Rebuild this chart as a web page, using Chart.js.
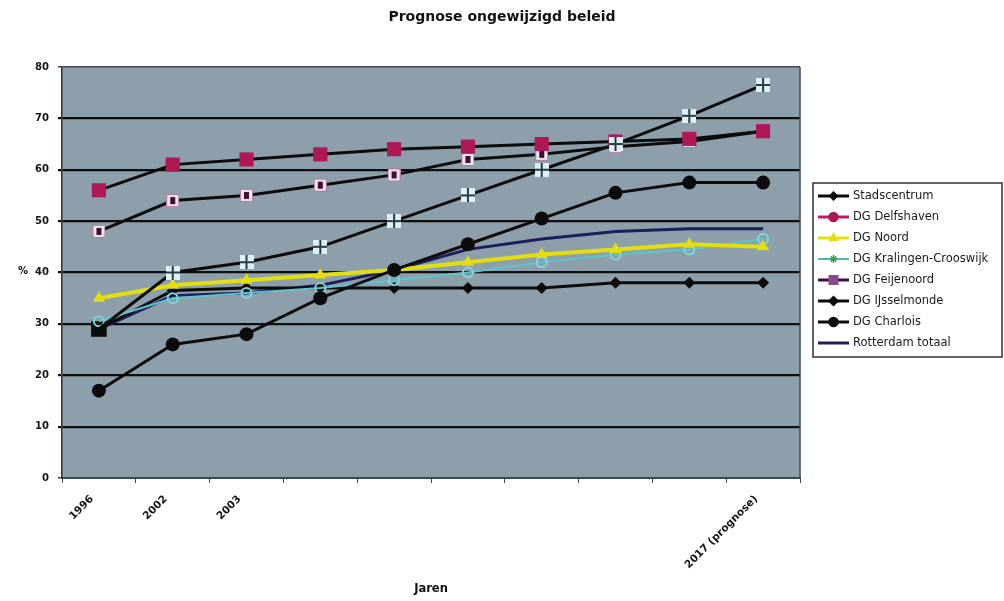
<!DOCTYPE html>
<html>
<head>
<meta charset="utf-8">
<title>Prognose ongewijzigd beleid</title>
<script src="https://cdn.jsdelivr.net/npm/chart.js@4.4.1/dist/chart.umd.min.js"></script>
<style>
  html, body { margin: 0; padding: 0; background: #ffffff; }
  #wrap { width: 1004px; height: 601px; }
</style>
</head>
<body>
<div id="wrap"><canvas id="chart" width="1004" height="601"></canvas></div>
<script>
// Years on the horizontal axis (only some of them are labelled)
const years = ['1996', '2002', '2003', '', '', '', '', '', '', '2017 (prognose)'];

// Percentages per district
const stadscentrum = [29, 40, 42, 45, 50, 55, 60, 65, 70.5, 76.5];
const delfshaven   = [56, 61, 62, 63, 64, 64.5, 65, 65.5, 66, 67.5];
const noord        = [35, 37.5, 38.5, 39.5, 40.5, 42, 43.5, 44.5, 45.5, 45];
const kralingen    = [30.5, 35, 36, 37, 38.5, 40, 42, 43.5, 44.5, 46.5];
const feijenoord   = [48, 54, 55, 57, 59, 62, 63, 64.5, 65.5, 67.5];
const ijsselmonde  = [29, 36.5, 37, 37, 37, 37, 37, 38, 38, 38];
const charlois     = [17, 26, 28, 35, 40.5, 45.5, 50.5, 55.5, 57.5, 57.5];
const rotterdam    = [29, 35.5, 36, 37.5, 40.5, 44.5, 46.5, 48, 48.5, 48.5];

// Value axis
const yMin = 0, yMax = 80, yStep = 10;

const FONT = 'DejaVu Sans';

// Light square split into four by a dark cross
function crossSquare() {
  const c = document.createElement('canvas');
  c.width = 14; c.height = 14;
  const g = c.getContext('2d');
  g.fillStyle = '#dcf0f6';
  g.fillRect(0, 0, 14, 14);
  g.fillStyle = '#2b3b46';
  g.fillRect(6, 0, 2, 14);
  g.fillRect(0, 6, 14, 2);
  return c;
}

// Pale square with a dark purple core
function purpleSquare() {
  const c = document.createElement('canvas');
  c.width = 13; c.height = 13;
  const g = c.getContext('2d');
  g.fillStyle = '#f3e3ee';
  g.fillRect(0, 0, 13, 13);
  g.strokeStyle = '#b07fa0';
  g.lineWidth = 1;
  g.strokeRect(0.5, 0.5, 12, 12);
  g.fillStyle = '#3c0f33';
  g.fillRect(4, 3, 5, 7);
  return c;
}

const crossImg = crossSquare();
const purpleImg = purpleSquare();

const datasets = [
  {
    label: 'Stadscentrum', data: stadscentrum, order: 1,
    borderColor: '#0c0c0c', borderWidth: 3,
    pointStyle: crossImg,
    pointRadius: ctx => ctx.dataIndex === 0 ? 0 : 7,
    legendPoint: { style: 'rectRot', radius: 4, fill: '#0c0c0c' }
  },
  {
    label: 'DG Delfshaven', data: delfshaven, order: 2,
    borderColor: '#0c0c0c', borderWidth: 3,
    pointStyle: 'rect', pointRadius: 10,
    pointBackgroundColor: '#ad1855', pointBorderColor: '#ad1855', pointBorderWidth: 0,
    legendLine: '#c2186a',
    legendPoint: { style: 'circle', radius: 4.5, fill: '#ad1855' }
  },
  {
    label: 'DG Noord', data: noord, order: 5,
    borderColor: '#e3de10', borderWidth: 4,
    pointStyle: 'triangle', pointRadius: 7,
    pointBackgroundColor: '#e3de10', pointBorderColor: '#e3de10', pointBorderWidth: 0,
    legendPoint: { style: 'triangle', radius: 4.5, fill: '#e3de10' }
  },
  {
    label: 'DG Kralingen-Crooswijk', data: kralingen, order: 6,
    borderColor: '#5ec4cc', borderWidth: 2,
    pointStyle: 'circle', pointRadius: 5,
    pointBackgroundColor: 'rgba(0,0,0,0)', pointBorderColor: '#7fd6dc', pointBorderWidth: 2,
    legendLine: '#4fb8c0',
    legendPoint: { style: 'star', radius: 4, fill: '#3aa050', stroke: '#3aa050' }
  },
  {
    label: 'DG Feijenoord', data: feijenoord, order: 3,
    borderColor: '#0c0c0c', borderWidth: 3,
    pointStyle: purpleImg, pointRadius: 7,
    legendLine: '#3c1040',
    legendPoint: { style: 'rect', radius: 6, fill: '#8a4a90' }
  },
  {
    label: 'DG IJsselmonde', data: ijsselmonde, order: 7,
    borderColor: '#0c0c0c', borderWidth: 3,
    pointStyle: ctx => ctx.dataIndex === 0 ? 'rect' : 'rectRot',
    pointRadius: ctx => ctx.dataIndex === 0 ? 11 : 6,
    pointBackgroundColor: '#0c0c0c', pointBorderColor: '#0c0c0c', pointBorderWidth: 0,
    legendPoint: { style: 'rectRot', radius: 4.5, fill: '#0c0c0c' }
  },
  {
    label: 'DG Charlois', data: charlois, order: 4,
    borderColor: '#0c0c0c', borderWidth: 3,
    pointStyle: 'circle', pointRadius: 7,
    pointBackgroundColor: '#0c0c0c', pointBorderColor: '#0c0c0c', pointBorderWidth: 0,
    legendPoint: { style: 'circle', radius: 4.5, fill: '#0c0c0c' }
  },
  {
    label: 'Rotterdam totaal', data: rotterdam, order: 8,
    borderColor: '#1b1f5c', borderWidth: 3,
    pointRadius: 0
  }
];
datasets.forEach(d => { d.fill = false; d.tension = 0; d.pointHoverRadius = d.pointRadius; });

// Blue-grey plot background and frame
const plotBackground = {
  id: 'plotBackground',
  beforeDraw(chart) {
    const { ctx, chartArea: a } = chart;
    ctx.save();
    ctx.fillStyle = '#8d9fab';
    ctx.fillRect(a.left, a.top, a.right - a.left, a.bottom - a.top);
    ctx.restore();
  },
  afterDraw(chart) {
    const { ctx, chartArea: a } = chart;
    ctx.save();
    ctx.strokeStyle = '#3c4852';
    ctx.lineWidth = 1.5;
    ctx.beginPath();
    ctx.moveTo(a.right, a.top);
    ctx.lineTo(a.right, a.bottom);
    ctx.stroke();
    // unit label beside the value axis
    ctx.fillStyle = '#111';
    ctx.font = 'bold 10px "' + FONT + '"';
    ctx.textAlign = 'center';
    ctx.textBaseline = 'middle';
    ctx.fillText('%', 23, 271);
    ctx.restore();
  }
};

// Boxed legend with line + marker samples
const boxedLegend = {
  id: 'boxedLegend',
  afterDraw(chart) {
    const ctx = chart.ctx;
    const x0 = 813, y0 = 183, w = 189, h = 174;
    ctx.save();
    ctx.fillStyle = '#ffffff';
    ctx.fillRect(x0, y0, w, h);
    ctx.strokeStyle = '#2e3338';
    ctx.lineWidth = 1.5;
    ctx.strokeRect(x0, y0, w, h);
    chart.data.datasets.forEach((ds, i) => {
      const y = 196 + i * 21;
      ctx.strokeStyle = ds.legendLine || ds.borderColor;
      ctx.lineWidth = Math.min(ds.borderWidth, 3);
      ctx.beginPath();
      ctx.moveTo(818, y);
      ctx.lineTo(849, y);
      ctx.stroke();
      if (ds.legendPoint) {
        const p = ds.legendPoint;
        ctx.fillStyle = p.fill;
        ctx.strokeStyle = p.stroke || p.fill;
        ctx.lineWidth = 1.5;
        Chart.helpers.drawPoint(ctx, { pointStyle: p.style, radius: p.radius, borderWidth: 1.5, rotation: 0 }, 833.5, y);
      }
      ctx.fillStyle = '#1a1a1a';
      ctx.font = '11.5px "' + FONT + '"';
      ctx.textAlign = 'left';
      ctx.textBaseline = 'middle';
      ctx.fillText(ds.label, 853, y + 0.5);
    });
    ctx.restore();
  }
};

new Chart(document.getElementById('chart'), {
  type: 'line',
  data: { labels: years, datasets },
  plugins: [plotBackground, boxedLegend],
  options: {
    responsive: false,
    animation: false,
    events: [],
    layout: { padding: 0 },
    plugins: {
      legend: { display: false },
      tooltip: { enabled: false },
      title: {
        display: true,
        text: 'Prognose ongewijzigd beleid',
        color: '#111',
        font: { family: FONT, size: 14, weight: 'bold' },
        padding: { top: 9, bottom: 41.2 }
      }
    },
    scales: {
      x: {
        type: 'category',
        offset: true,
        grid: {
          display: true, drawOnChartArea: false, drawTicks: true,
          tickLength: 5, color: '#3c4852', lineWidth: 1, offset: true
        },
        border: { display: true, color: '#3a4856', width: 2 },
        ticks: {
          autoSkip: false, minRotation: 45, maxRotation: 45,
          color: '#151515', padding: 10, labelOffset: -7,
          font: { family: FONT, size: 10.5, weight: 'bold' }
        },
        title: {
          display: true, text: 'Jaren', color: '#111',
          font: { family: FONT, size: 11.5, weight: 'bold' },
          padding: { top: 4, bottom: 5 }
        },
        afterFit(scale) { scale.height = 123; }
      },
      y: {
        min: yMin, max: yMax,
        ticks: {
          stepSize: yStep, color: '#151515', padding: 9,
          font: { family: FONT, size: 10, weight: 'bold' }
        },
        grid: {
          drawTicks: true, tickLength: 4,
          color: ctx => (ctx.tick && (ctx.tick.value === yMin || ctx.tick.value === yMax)) ? '#3c4852' : '#0e0e0e',
          lineWidth: ctx => (ctx.tick && (ctx.tick.value === yMin || ctx.tick.value === yMax)) ? 1.5 : 2.2
        },
        border: { display: true, color: '#2e3338', width: 1.5 },
        afterFit(scale) { scale.width = 62; }
      },
      legendSpace: {
        type: 'linear', position: 'right', display: true,
        grid: { display: false, drawTicks: false },
        border: { display: false },
        ticks: { display: false },
        afterFit(scale) { scale.width = 204; }
      }
    }
  }
});
</script>
</body>
</html>
